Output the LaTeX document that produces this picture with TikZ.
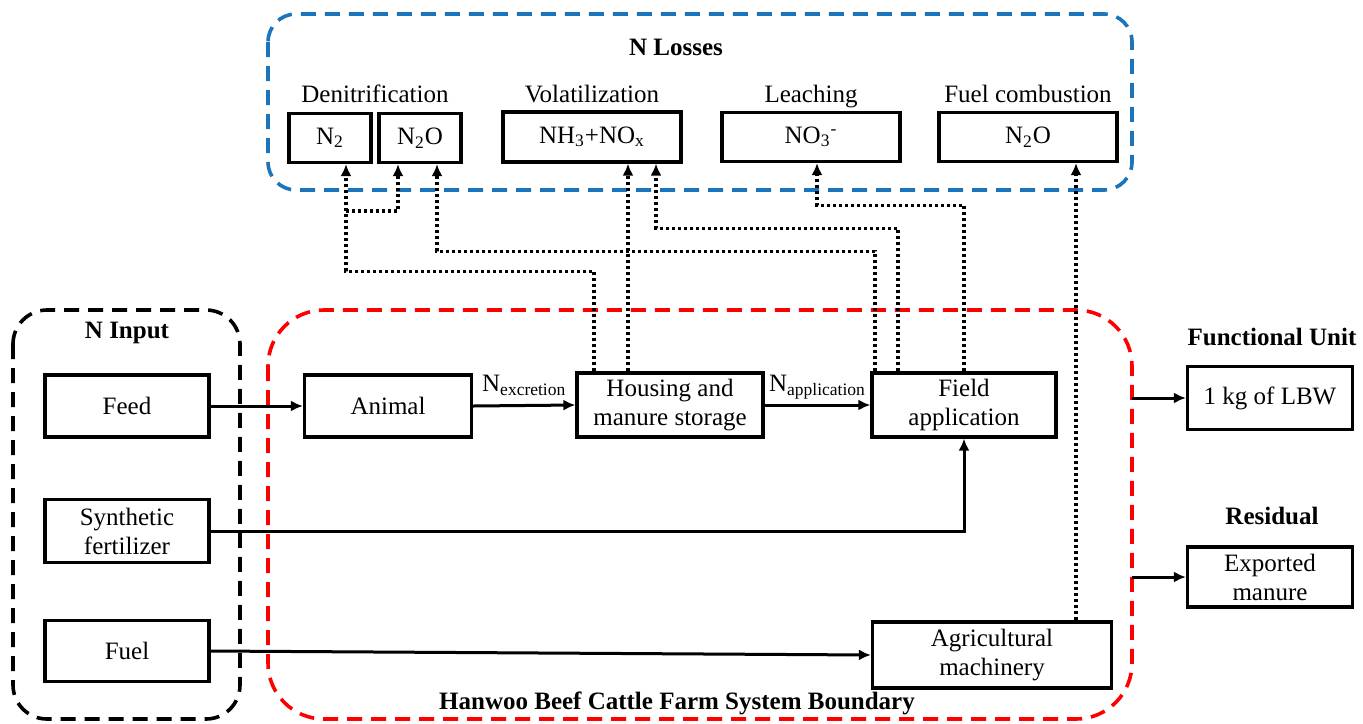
\documentclass[tikz,border=0pt]{standalone}
\usepackage{fontspec}
\setmainfont{Liberation Serif}
\usetikzlibrary{arrows.meta}
\definecolor{lossline}{HTML}{1B75BC}
\definecolor{farmline}{HTML}{FF0000}
\definecolor{inputline}{HTML}{000000}

\begin{document}
\begin{tikzpicture}[x=0.5pt,y=-0.5pt,
		font=\fontsize{12.5}{14.5}\selectfont,
		box/.style={draw,line width=1.6pt,inner sep=0pt,align=center},
		boundary/.style={line width=1.8pt,dash pattern=on 7.5pt off 4.5pt},
		flow/.style={line width=1.5pt,-{Latex[length=6pt,width=5.5pt]}},
		loss/.style={line width=1.9pt,dash pattern=on 1.6pt off 1.4pt,-{Latex[length=6pt,width=5.5pt]}},
		heading/.style={font=\fontsize{12.5}{14.5}\selectfont\bfseries},
		losslabel/.style={anchor=base}]
		%
		\useasboundingbox (0,0) rectangle (1363,723);
		\draw [boundary,lossline,rounded corners=14pt] (268,14) rectangle (1132,190); %losses
		\draw [boundary,inputline,rounded corners=17pt] (13,310) rectangle (240,719); %input
		\draw [boundary,farmline,rounded corners=28pt] (268,310) rectangle (1132,719); %farm
		%
		\node [heading] (losst) at (676,47) {N Losses};
		\node [heading] (inputt) at (127,333) {N Input};
		\node [heading] (farmt) at (677,703) {Hanwoo Beef Cattle Farm System Boundary};
		\node [heading] (unitt) at (1272,337) {Functional Unit};
		\node [heading] (residt) at (1272,516) {Residual};
		%
		\node [losslabel] (denit) at (375,102) {Denitrification};
		\node [losslabel] (volat) at (592,102) {Volatilization};
		\node [losslabel] (leach) at (811,102) {Leaching};
		\node [losslabel] (fuelc) at (1028,102) {Fuel combustion};
		\node [box,minimum width=41pt,minimum height=24.5pt] (n2) at (330,138) {N\textsubscript{2}};
		\node [box,minimum width=41pt,minimum height=24.5pt] (n2oa) at (420,138) {N\textsubscript{2}O};
		\node [box,minimum width=89pt,minimum height=25pt] (nh3) at (592,137) {NH\textsubscript{3}+NO\textsubscript{x}};
		\node [box,minimum width=89pt,minimum height=24.5pt] (no3) at (811,137) {NO\textsubscript{3}\textsuperscript{-}};
		\node [box,minimum width=89pt,minimum height=24.5pt] (n2ob) at (1028,137) {N\textsubscript{2}O};
		%
		\node [box,minimum width=82pt,minimum height=31pt] (feed) at (127,406) {Feed};
		\node [box,minimum width=82pt,minimum height=31.5pt] (synth) at (127,531) {Synthetic\\fertilizer};
		\node [box,minimum width=82pt,minimum height=30.5pt] (fuel) at (127,651) {Fuel};
		\node [box,minimum width=83.5pt,minimum height=31pt] (animal) at (388,406) {Animal};
		\node [box,minimum width=93pt,minimum height=32pt] (housing) at (670,405) {Housing and\\manure storage};
		\node [box,minimum width=92pt,minimum height=32pt] (field) at (964,405) {Field\\application};
		\node [box,minimum width=119.5pt,minimum height=33pt] (machine) at (992,655) {Agricultural\\machinery};
		\node [box,minimum width=82.5pt,minimum height=31.5pt] (unit) at (1270,398) {1 kg of LBW};
		\node [box,minimum width=82.5pt,minimum height=30pt] (export) at (1270,577) {Exported\\manure};
		%
		\draw [flow] (feed.east) -- (animal.west);
		\draw [flow] (animal.east) -- node [above=1pt] (nexc) {N\textsubscript{excretion}} (housing.west);
		\draw [flow] (housing.east) -- node [above=-1pt] (napp) {N\textsubscript{application}} (field.west);
		\draw [flow] (synth.east) -| (field.south);
		\draw [flow] (fuel.east) -- (machine.west);
		\coordinate (unitout) at (1132,398);
		\coordinate (exportout) at (1132,577);
		\draw [flow] (unitout) -- (unit.west);
		\draw [flow] (exportout) -- (export.west);
		%
		\draw [loss] ([xshift=-38pt]housing.north) -- ++(0,-100) -| ([xshift=8pt]n2.south);
		\coordinate (split) at (346,211);
		\draw [loss] (split) -| ([xshift=-11pt]n2oa.south);
		\draw [loss] ([xshift=-21pt]housing.north) -- ([xshift=18pt]nh3.south);
		\draw [loss] ([xshift=-44.5pt]field.north) -- ++(0,-120) -| ([xshift=8.5pt]n2oa.south);
		\draw [loss] ([xshift=-33pt]field.north) -- ++(0,-143) -| ([xshift=32pt]nh3.south);
		\draw [loss] (field.north) -- ++(0,-166) -| ([xshift=3pt]no3.south);
		\draw [loss] ([xshift=42pt]machine.north) -- ([xshift=24pt]n2ob.south);
	\end{tikzpicture}
\end{document}
